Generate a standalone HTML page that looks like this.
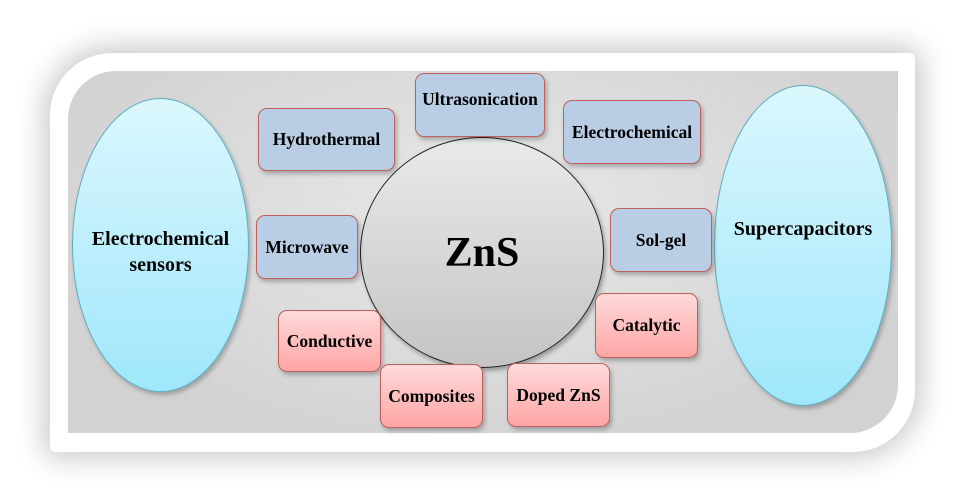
<!DOCTYPE html>
<html><head><style>
body{margin:0;width:960px;height:499px;background:#fff;position:relative;overflow:hidden;font-family:"Liberation Serif",serif;font-weight:bold}
.frame{position:absolute;left:50px;top:53px;width:865px;height:399px;background:#fff;border-radius:62px 6px 62px 6px;box-shadow:0 0 28px 6px rgba(0,0,0,0.22)}
.inner{position:absolute;left:68px;top:71px;width:830px;height:362px;background:radial-gradient(ellipse at 50% 40%,#e8e8e8,#d2d2d2 80%);border-radius:48px 0 48px 0}
.ell{position:absolute;border-radius:50%;background:linear-gradient(#dbf7fd,#9fe7fb);border:1.5px solid #5aaec4;box-shadow:2px 3px 4px rgba(0,0,0,.25);display:flex;align-items:center;justify-content:center;text-align:center;font-size:20px;color:#000;line-height:26px;box-sizing:border-box}
.c{position:absolute;left:360px;top:137px;width:242px;height:229px;border-radius:50%;border:1.5px solid #222;background:linear-gradient(#eaeaea,#c4c4c4);display:flex;align-items:center;justify-content:center;font-size:42px;box-shadow:2px 3px 4px rgba(0,0,0,.3)}
.b{position:absolute;border-radius:9px;border:1.5px solid #c0605d;display:flex;align-items:center;justify-content:center;font-size:17.5px;box-sizing:border-box;box-shadow:2px 3px 4px rgba(0,0,0,.25);white-space:nowrap}
.bl{background:#b9cde5}
.pk{background:linear-gradient(#ffdada,#ffa5a5)}
</style></head><body>
<div class="frame"></div>
<div class="inner"></div>
<div class="ell" style="left:72px;top:98px;width:177px;height:294px;padding-top:14px">Electrochemical<br>sensors</div>
<div class="ell" style="left:714px;top:85px;width:178px;height:321px;padding-bottom:34px">Supercapacitors</div>
<div class="c">ZnS</div>
<div class="b bl" style="left:258px;top:108px;width:137px;height:63px">Hydrothermal</div>
<div class="b bl" style="left:415px;top:73px;width:130px;height:64px;align-items:flex-start;padding-top:15px">Ultrasonication</div>
<div class="b bl" style="left:563px;top:100px;width:138px;height:64px">Electrochemical</div>
<div class="b bl" style="left:256px;top:215px;width:102px;height:64px">Microwave</div>
<div class="b bl" style="left:610px;top:208px;width:102px;height:64px">Sol-gel</div>
<div class="b pk" style="left:278px;top:310px;width:103px;height:62px">Conductive</div>
<div class="b pk" style="left:595px;top:293px;width:103px;height:65px">Catalytic</div>
<div class="b pk" style="left:380px;top:364px;width:103px;height:64px">Composites</div>
<div class="b pk" style="left:507px;top:363px;width:103px;height:64px">Doped ZnS</div>
</body></html>
